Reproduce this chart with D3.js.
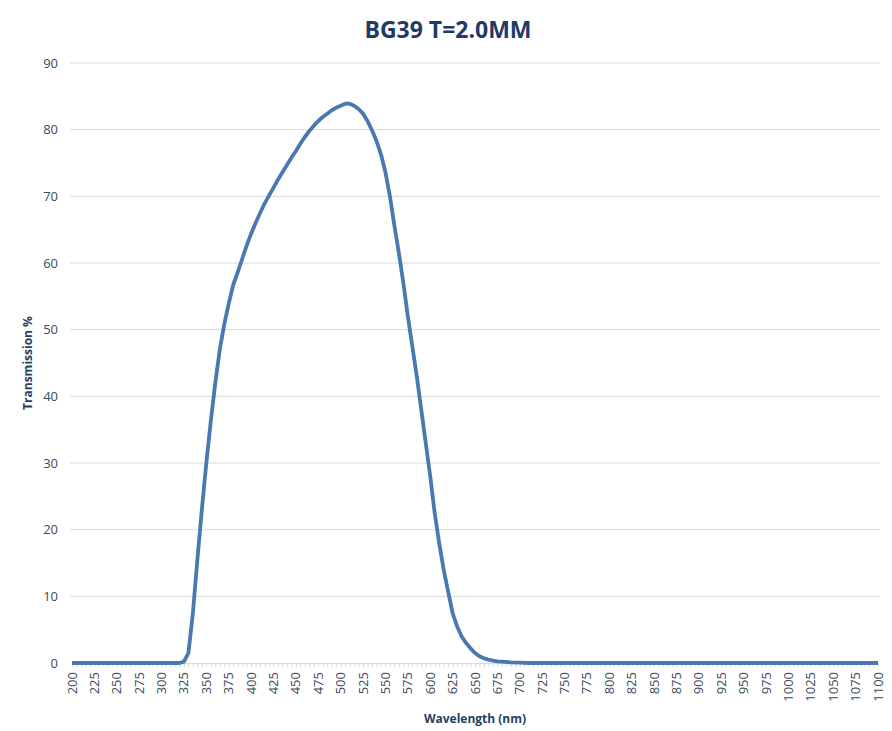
<!DOCTYPE html>
<html>
<head>
<meta charset="utf-8">
<script src="https://cdn.jsdelivr.net/npm/d3@7"></script>
<style>
  body { margin: 0; background: #fff; }
  text { font-family: "Open Sans", "DejaVu Sans", sans-serif; }
</style>
</head>
<body>
<div class="chart"></div>
<script>
// Wavelength (nm) and transmission (%)
const wavelengths = [200, 250, 300, 320, 325, 330, 335, 340, 345, 350, 355, 360, 365, 370, 375, 380, 385, 390, 395,
    400, 405, 410, 415, 420, 425, 430, 435, 440, 445, 450, 455, 460, 465, 470, 475, 480, 485, 490, 495,
    500, 505, 510, 515, 520, 525, 530, 535, 540, 545, 550, 555, 560, 565, 570, 575, 580, 585, 590, 595,
    600, 605, 610, 615, 620, 625, 630, 635, 640, 645, 650, 655, 660, 665, 670, 675, 680, 690, 700, 710,
    800, 900, 1000, 1100];
const transmission = [0, 0, 0, 0, 0.2, 1.5, 7.5, 15.5, 23, 30, 36.3, 42, 47, 50.8, 53.9, 56.7, 58.6, 60.6, 62.6,
    64.4, 66.0, 67.5, 68.9, 70.1, 71.3, 72.5, 73.6, 74.7, 75.8, 76.8, 77.9, 78.9, 79.8, 80.6, 81.3, 81.9, 82.4, 82.9, 83.3,
    83.6, 83.9, 83.9, 83.6, 83.1, 82.4, 81.3, 79.9, 78.3, 76.3, 73.6, 70.0, 65.6, 61.5, 57.0, 52.0, 47.5, 43, 38, 33,
    28, 22.5, 18, 14, 10.7, 7.5, 5.5, 4, 3, 2.2, 1.5, 1.0, 0.7, 0.5, 0.35, 0.25, 0.2, 0.1, 0.05, 0,
    0, 0, 0, 0];

const xTickLabels = [200, 225, 250, 275, 300, 325, 350, 375, 400, 425, 450, 475, 500, 525, 550, 575, 600, 625,
    650, 675, 700, 725, 750, 775, 800, 825, 850, 875, 900, 925, 950, 975, 1000, 1025, 1050, 1075, 1100];
const yTickLabels = [0, 10, 20, 30, 40, 50, 60, 70, 80, 90];

const data = wavelengths.map((w, i) => ({ w: w, t: transmission[i] }));

const width = 892, height = 731;
const margin = {left: 72, right: 878, top: 63, bottom: 663};

const svg = d3.select(".chart")
    .append("svg")
    .attr("width", width)
    .attr("height", height);

const x = d3.scaleLinear().domain([200, 1100]).range([margin.left, margin.right]);
const y = d3.scaleLinear().domain([0, 90]).range([margin.bottom, margin.top]);

// horizontal gridlines
svg.append("g")
    .selectAll("line")
    .data(yTickLabels.filter(d => d > 0))
    .enter()
    .append("line")
        .attr("x1", margin.left - 2)
        .attr("x2", margin.right + 2)
        .attr("y1", d => y(d))
        .attr("y2", d => y(d))
        .attr("stroke", "#d9d9d9")
        .attr("stroke-width", 1);

// y axis labels
const yAxis = d3.axisLeft(y).tickValues(yTickLabels).tickSize(0).tickPadding(14);
svg.append("g")
    .attr("transform", `translate(${margin.left}, 0)`)
    .call(yAxis)
    .call(g => g.select(".domain").remove())
    .selectAll("text")
        .attr("fill", "#3b4a5a")
        .style("font-size", "13px");

// x axis: minor ticks every 5 nm, labels every 25 nm
const minorTicks = d3.range(200, 1101, 5);
svg.append("g")
    .attr("transform", `translate(0, ${margin.bottom})`)
    .call(d3.axisBottom(x).tickValues(minorTicks).tickSize(4).tickFormat(""))
    .call(g => g.select(".domain").attr("stroke", "#d9d9d9"))
    .call(g => g.selectAll(".tick line").attr("stroke", "#d9d9d9"));

svg.append("g")
    .selectAll("text")
    .data(xTickLabels)
    .enter()
    .append("text")
        .attr("transform", d => `translate(${x(d) + 4.5}, ${margin.bottom + 9}) rotate(-90)`)
        .attr("text-anchor", "end")
        .attr("fill", "#3b4a5a")
        .style("font-size", "13px")
        .text(d => d);

// the transmission curve
const line = d3.line()
    .x(d => x(d.w))
    .y(d => y(d.t));

svg.append("path")
    .datum(data)
    .attr("fill", "none")
    .attr("stroke", "#4a78b0")
    .attr("stroke-width", 3.8)
    .attr("stroke-linejoin", "round")
    .attr("d", line);

// title and axis titles
svg.append("text")
    .attr("x", 448)
    .attr("y", 38)
    .attr("text-anchor", "middle")
    .attr("fill", "#1f3b63")
    .style("font-size", "23px")
    .style("font-weight", "bold")
    .text("BG39 T=2.0MM");

svg.append("text")
    .attr("x", 475)
    .attr("y", 723)
    .attr("text-anchor", "middle")
    .attr("fill", "#243f60")
    .style("font-size", "12px")
    .style("font-weight", "bold")
    .text("Wavelength (nm)");

svg.append("text")
    .attr("transform", `translate(32, ${(margin.top + margin.bottom) / 2}) rotate(-90)`)
    .attr("text-anchor", "middle")
    .attr("fill", "#243f60")
    .style("font-size", "12px")
    .style("font-weight", "bold")
    .text("Transmission %");
</script>
</body>
</html>
